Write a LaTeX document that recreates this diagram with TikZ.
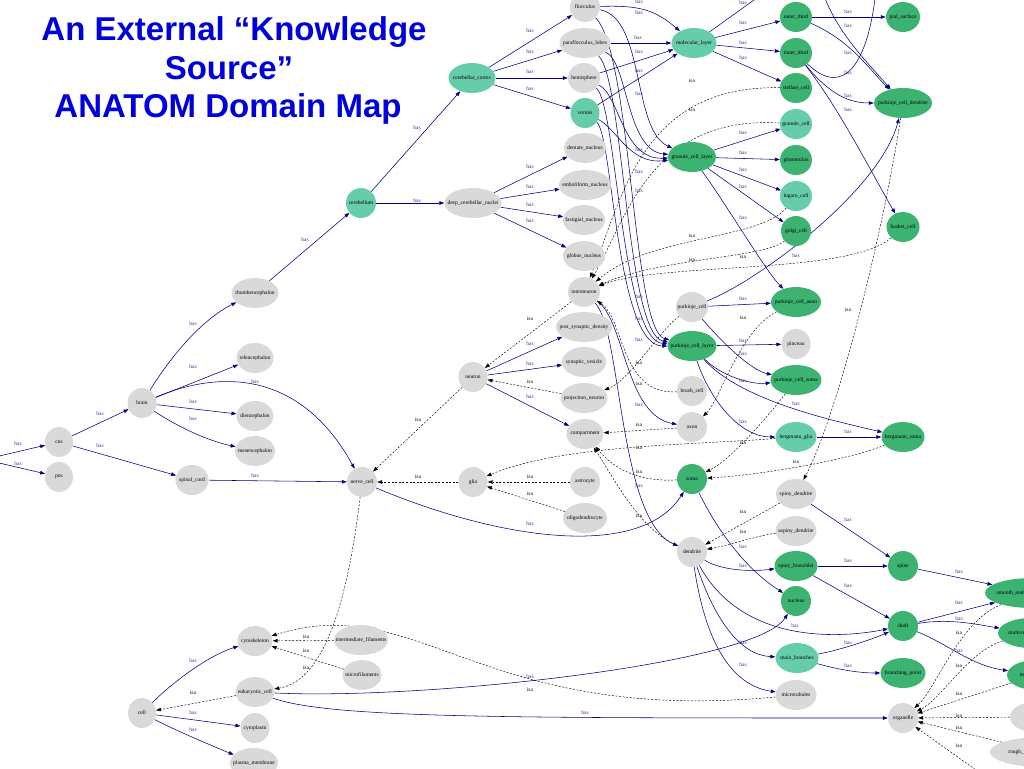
\documentclass[tikz,border=0pt]{standalone}
\usepackage{fontspec}
\setmainfont{Liberation Serif}
\newfontfamily\titlefont{Liberation Sans}
\usetikzlibrary{arrows.meta,shapes.geometric}
\pgfdeclarelayer{bg}
\pgfsetlayers{bg,main}
\definecolor{dgc}{RGB}{60,179,113}
\definecolor{lgc}{RGB}{102,205,170}
\definecolor{grc}{RGB}{217,217,217}
\definecolor{nvc}{RGB}{0,0,128}
\definecolor{hlc}{RGB}{51,51,160}
\definecolor{ttc}{RGB}{0,0,220}
\newcommand\mynode[6]{\node[#5, minimum width=#4pt] (#1) at (#2,#3) {\makebox[0pt]{#6}};}
\begin{document}
\begin{tikzpicture}[x=1pt,y=-1pt,
 nd/.style={ellipse, inner sep=0pt, minimum height=30pt, font=\fontsize{5.5}{6}\selectfont},
 gn/.style={nd, fill=grc},
 dn/.style={nd, fill=dgc},
 ln/.style={nd, fill=lgc},
 has/.style={draw=nvc, line width=0.55pt, -{Triangle[length=5pt,width=3.6pt]}},
 isa/.style={draw=black, line width=0.45pt, dash pattern=on 2pt off 1.6pt, -{Triangle[length=5pt,width=3.6pt]}},
 hl/.style={font=\fontsize{5.5}{6}\selectfont, text=hlc, inner sep=0pt},
 il/.style={font=\fontsize{5.5}{6}\selectfont, text=black, inner sep=0pt},
 tt/.style={font=\titlefont\bfseries\fontsize{33}{33}\selectfont, text=ttc, anchor=base, inner sep=0pt}]
\useasboundingbox (0,0) rectangle (1024,768);
\clip (0,0) rectangle (1024,768);
% ---------- nodes
\mynode{cns}{59}{442}{28}{gn}{cns}
\mynode{pns}{59}{477}{28}{gn}{pns}
\mynode{brain}{142}{403}{29}{gn}{brain}
\mynode{spc}{192}{480}{33}{gn}{spinal\_cord}
\mynode{rh}{255}{293}{47}{gn}{rhombencephalon}
\mynode{tel}{255}{358}{37}{gn}{telencephalon}
\mynode{die}{255}{416}{37}{gn}{diencephalon}
\mynode{mes}{255}{451}{40}{gn}{mesencephalon}
\mynode{nerve}{362}{482}{30}{gn}{nerve\_cell}
\mynode{cbl}{361}{203}{30}{ln}{cerebellum}
\mynode{cc}{472}{78}{47}{ln}{cerebellar\_cortex}
\mynode{deep}{473}{203}{57}{gn}{deep\_cerebellar\_nuclei}
\mynode{floc}{585}{7}{30}{gn}{flocculus}
\mynode{para}{585}{43}{51}{gn}{paraflocculus\_lobes}
\mynode{hemi}{584}{78}{32}{gn}{hemisphere}
\mynode{vermis}{585}{113}{29}{ln}{vermis}
\mynode{dent}{585}{148}{42}{gn}{dentate\_nucleus}
\mynode{emb}{585}{185}{52}{gn}{emboliform\_nucleus}
\mynode{fast}{584}{220}{42}{gn}{fastigial\_nucleus}
\mynode{glob}{584}{256}{42}{gn}{globus\_nucleus}
\mynode{intn}{584}{292}{32}{gn}{interneuron}
\mynode{psd}{584}{327}{56}{gn}{post\_synaptic\_density}
\mynode{sv}{584}{362}{44}{gn}{synaptic\_vesicle}
\mynode{pn}{584}{398}{47}{gn}{projection\_neuron}
\mynode{comp}{585}{434}{37}{gn}{compartment}
\mynode{astro}{585}{482}{30}{gn}{astrocyte}
\mynode{oligo}{585}{518}{44}{gn}{oligodendrocyte}
\mynode{neuron}{473}{377}{29}{gn}{neuron}
\mynode{glia}{473}{482}{29}{gn}{glia}
\mynode{ml}{694}{43}{45}{ln}{molecular\_layer}
\mynode{gcl}{692}{157}{48}{dn}{granule\_cell\_layer}
\mynode{pc}{692}{307}{32}{gn}{purkinje\_cell}
\mynode{pcl}{692}{346}{49}{dn}{purkinje\_cell\_layer}
\mynode{brush}{692}{391}{30}{gn}{brush\_cell}
\mynode{axon}{692}{427}{30}{gn}{axon}
\mynode{soma}{692}{479}{30}{dn}{soma}
\mynode{dend}{692}{552}{30}{gn}{dendrite}
\mynode{outer}{796}{17}{32}{dn}{outer\_third}
\mynode{inner}{796}{53}{32}{dn}{inner\_third}
\mynode{stell}{796}{88}{32}{dn}{stellate\_cell}
\mynode{gc}{796}{124}{32}{ln}{granule\_cell}
\mynode{glom}{796}{160}{32}{dn}{glomerulus}
\mynode{lug}{796}{196}{32}{ln}{lugaro\_cell}
\mynode{golgi}{796}{231}{30}{dn}{golgi\_cell}
\mynode{pca}{796}{302}{50}{dn}{purkinje\_cell\_axon}
\mynode{pinc}{796}{344}{29}{gn}{pinceau}
\mynode{pcs}{796}{380}{51}{dn}{purkinje\_cell\_soma}
\mynode{bglia}{796}{437}{41}{ln}{bergmann\_glia}
\mynode{sd}{796}{494}{40}{gn}{spiny\_dendrite}
\mynode{asd}{796}{531}{41}{gn}{aspiny\_dendrite}
\mynode{sb}{796}{566}{43}{dn}{spiny\_branchlet}
\mynode{nuc}{796}{601}{30}{dn}{nucleus}
\mynode{mb}{797}{658}{43}{ln}{main\_branches}
\mynode{mt}{796}{695}{41}{gn}{microtubules}
\mynode{pial}{903}{17}{34}{dn}{pial\_surface}
\mynode{pcd}{903}{103}{58}{dn}{purkinje\_cell\_dendrite}
\mynode{basket}{903}{227}{33}{dn}{basket\_cell}
\mynode{bsoma}{903}{437}{43}{dn}{bergmann\_soma}
\mynode{spine}{903}{566}{30}{dn}{spine}
\mynode{shaft}{903}{626}{30}{dn}{shaft}
\mynode{bp}{903}{673}{45}{dn}{branching\_point}
\mynode{org}{903}{718}{30}{gn}{organelle}
\mynode{ser}{1032}{593}{94}{dn}{smooth\_endoplasmic\_reticulum}
\mynode{mvb}{1031}{633}{66}{dn}{multivesicular\_body}
\mynode{mito}{1036}{675}{58}{dn}{mitochondrion}
\mynode{lyso}{1034}{717}{48}{gn}{lysosome}
\mynode{rer}{1042}{752}{104}{gn}{rough\_endoplasmic\_reticulum}
\mynode{cell}{142}{713}{28}{gn}{cell}
\mynode{cytsk}{255}{641}{35}{gn}{cytoskeleton}
\mynode{euk}{255}{692}{39}{gn}{eukaryotic\_cell}
\mynode{cyto}{255}{728}{29}{gn}{cytoplasm}
\mynode{pm}{254}{763}{48}{gn}{plasma\_membrane}
\mynode{if}{361}{640}{54}{gn}{intermediate\_filaments}
\mynode{mf}{362}{675}{39}{gn}{microfilaments}
\coordinate (in1) at (-5,457);
\coordinate (in2) at (-5,462);
\coordinate (top1) at (768,-10);
\coordinate (top2) at (822,-10);
\coordinate (top3) at (876,-10);
\coordinate (bot1) at (990,780);
% ---------- title
\node[tt] (t1) at (234,41) {An External “Knowledge};
\node[tt] (t2) at (229,79) {Source”};
\node[tt] (t3) at (228,117) {ANATOM Domain Map};
\begin{pgfonlayer}{bg}
% ---------- has edges
\draw[has] (in1) -- (cns);
\draw[has] (in2) -- (pns);
\draw[has] (cns) -- (brain);
\draw[has] (cns) -- (spc);
\draw[has] (brain) .. controls (175,350) and (205,318) .. (rh);
\draw[has] (brain) -- (tel);
\draw[has] (brain) .. controls (220,370) and (300,370) .. (nerve);
\draw[has] (brain) -- (die);
\draw[has] (brain) .. controls (175,425) and (205,440) .. (mes);
\draw[has] (spc) -- (nerve);
\draw[has] (rh) -- (cbl);
\draw[has] (cbl) -- (cc);
\draw[has] (cbl) -- (deep);
\draw[has] (cc) -- (floc);
\draw[has] (cc) -- (para);
\draw[has] (cc) -- (hemi);
\draw[has] (cc) -- (vermis);
\draw[has] (deep) -- (dent);
\draw[has] (deep) -- (emb);
\draw[has] (deep) -- (fast);
\draw[has] (deep) -- (glob);
\draw[has] (floc) .. controls (640,5) and (655,10) .. (ml);
\draw[has] (para) -- (ml);
\draw[has] (hemi) -- (ml);
\draw[has] (vermis) -- (ml);
\draw[has] (floc) .. controls (645,18) and (632,130) .. (gcl);
\draw[has] (para) .. controls (628,62) and (626,150) .. (gcl);
\draw[has] (hemi) .. controls (620,95) and (622,160) .. (gcl);
\draw[has] (vermis) .. controls (616,128) and (630,165) .. (gcl);
\draw[has] (floc) .. controls (632,55) and (632,330) .. (pcl);
\draw[has] (para) .. controls (624,80) and (626,335) .. (pcl);
\draw[has] (hemi) .. controls (617,105) and (621,340) .. (pcl);
\draw[has] (vermis) .. controls (613,135) and (616,346) .. (pcl);
\draw[has] (ml) -- (top1);
\draw[has] (ml) -- (outer);
\draw[has] (ml) -- (inner);
\draw[has] (ml) -- (stell);
\draw[has] (outer) -- (pial);
\draw[has] (outer) .. controls (850,40) and (870,70) .. (pcd);
\draw[has] (top2) .. controls (835,30) and (865,60) .. (pcd);
\draw[has] (inner) .. controls (845,100) and (868,60) .. (top3);
\draw[has] (inner) .. controls (830,95) and (850,103) .. (pcd);
\draw[has] (inner) .. controls (840,110) and (870,170) .. (basket);
\draw[has] (gcl) -- (gc);
\draw[has] (gcl) -- (glom);
\draw[has] (gcl) -- (lug);
\draw[has] (gcl) -- (golgi);
\draw[has] (gcl) .. controls (730,210) and (765,270) .. (pca);
\draw[has] (pc) .. controls (760,280) and (880,190) .. (pcd);
\draw[has] (pc) -- (pca);
\draw[has] (pc) .. controls (720,340) and (750,370) .. (pcs);
\draw[has] (pcl) -- (pinc);
\draw[has] (pcl) .. controls (720,375) and (750,385) .. (pcs);
\draw[has] (pcl) .. controls (740,400) and (830,420) .. (bsoma);
\draw[has] (pcl) .. controls (710,400) and (740,437) .. (bglia);
\draw[has] (bglia) -- (bsoma);
\draw[has] (sd) -- (spine);
\draw[has] (sb) -- (spine);
\draw[has] (sb) -- (shaft);
\draw[has] (soma) .. controls (725,545) and (755,575) .. (nuc);
\draw[has] (dend) .. controls (720,570) and (750,572) .. (sb);
\draw[has] (dend) .. controls (740,640) and (830,640) .. (shaft);
\draw[has] (dend) .. controls (715,620) and (740,655) .. (mb);
\draw[has] (dend) .. controls (705,640) and (730,685) .. (mt);
\draw[has] (mb) .. controls (840,650) and (870,640) .. (shaft);
\draw[has] (mb) .. controls (840,670) and (860,673) .. (bp);
\draw[has] (spine) -- (ser);
\draw[has] (shaft) -- (ser);
\draw[has] (shaft) .. controls (950,618) and (980,625) .. (mvb);
\draw[has] (shaft) .. controls (950,645) and (970,665) .. (mito);
\draw[has] (nerve) .. controls (500,540) and (640,560) .. (soma);
\draw[has] (neuron) -- (psd);
\draw[has] (neuron) -- (sv);
\draw[has] (neuron) -- (comp);
\draw[has] (intn) .. controls (625,320) and (625,415) .. (axon);
\draw[has] (intn) .. controls (622,330) and (618,520) .. (dend);
\draw[has] (euk) .. controls (330,718) and (500,718) .. (org);
\draw[has] (euk) .. controls (420,700) and (755,665) .. (nuc);
\draw[has] (cell) .. controls (175,680) and (210,655) .. (cytsk);
\draw[has] (cell) -- (cyto);
\draw[has] (cell) .. controls (175,730) and (210,745) .. (pm);
% ---------- isa edges
\draw[isa] (intn) -- (neuron);
\draw[isa] (pn) -- (neuron);
\draw[isa] (neuron) -- (nerve);
\draw[isa] (glia) -- (nerve);
\draw[isa] (astro) -- (glia);
\draw[isa] (oligo) -- (glia);
\draw[isa] (bglia) .. controls (690,445) and (560,445) .. (glia);
\draw[isa] (axon) -- (comp);
\draw[isa] (soma) .. controls (640,482) and (615,470) .. (comp);
\draw[isa] (dend) .. controls (640,530) and (615,480) .. (comp);
\draw[isa] (pca) .. controls (740,330) and (720,400) .. (axon);
\draw[isa] (pc) .. controls (660,330) and (630,380) .. (pn);
\draw[isa] (brush) .. controls (620,395) and (625,320) .. (intn);
\draw[isa] (stell) .. controls (640,85) and (622,200) .. (intn);
\draw[isa] (gc) .. controls (650,115) and (626,220) .. (intn);
\draw[isa] (lug) .. controls (760,240) and (650,235) .. (intn);
\draw[isa] (golgi) .. controls (765,258) and (660,258) .. (intn);
\draw[isa] (basket) .. controls (850,275) and (660,262) .. (intn);
\draw[isa] (pcs) .. controls (765,420) and (730,460) .. (soma);
\draw[isa] (bsoma) .. controls (850,460) and (760,475) .. (soma);
\draw[isa] (pcd) .. controls (880,250) and (835,420) .. (sd);
\draw[isa] (sd) -- (dend);
\draw[isa] (asd) .. controls (760,535) and (730,545) .. (dend);
\draw[isa] (nerve) .. controls (350,580) and (330,680) .. (euk);
\draw[isa] (if) -- (cytsk);
\draw[isa] (mf) -- (cytsk);
\draw[isa] (euk) -- (cell);
\draw[isa] (mt) .. controls (480,725) and (420,590) .. (cytsk);
\draw[isa] (ser) .. controls (960,620) and (935,690) .. (org);
\draw[isa] (mvb) .. controls (970,650) and (940,700) .. (org);
\draw[isa] (mito) -- (org);
\draw[isa] (lyso) -- (org);
\draw[isa] (rer) -- (org);
\draw[isa] (bot1) -- (org);
\end{pgfonlayer}
% ---------- labels
\foreach \x/\y [count=\i] in {18/444,18/464,100/414,100/446,193/324,193/367,255/382,193/402,193/419,255/476,305/240,417/128,417/201,530/31,530/52,530/72,530/89,530/167,530/187,530/205,530/221,639/2,639/13,638/38,639/52,639/71,639/94,639/150,639/172,639/191,743/3,743/23,743/43,743/58,848/12,848/26,848/53,848/73,848/96,848/110,743/133,743/153,743/170,743/187,743/218,796/256,639/297,639/319,639/340,743/299,743/341,743/354,743/381,796/404,743/422,530/344,530/364,530/397,639/405,639/486,530/524,848/432,743/547,743/566,848/520,848/561,848/586,795/626,743/643,743/665,848/643,848/666,959/572,959/603,959/619,959/651,530/677,585/713,193/661,193/713,193/730}
  \node[hl] (h\i) at (\x,\y) {has};
\foreach \x/\y [count=\i] in {692/81,692/110,692/236,692/260,743/257,743/318,848/310,530/319,530/382,639/363,639/384,639/425,639/448,639/472,639/516,418/420,418/477,530/477,530/494,743/443,796/462,743/512,743/532,306/637,306/651,306/668,193/693,530/690,959/633,959/666,959/694,959/716,959/728,959/746}
  \node[il] (i\i) at (\x,\y) {isa};
\end{tikzpicture}
\end{document}
